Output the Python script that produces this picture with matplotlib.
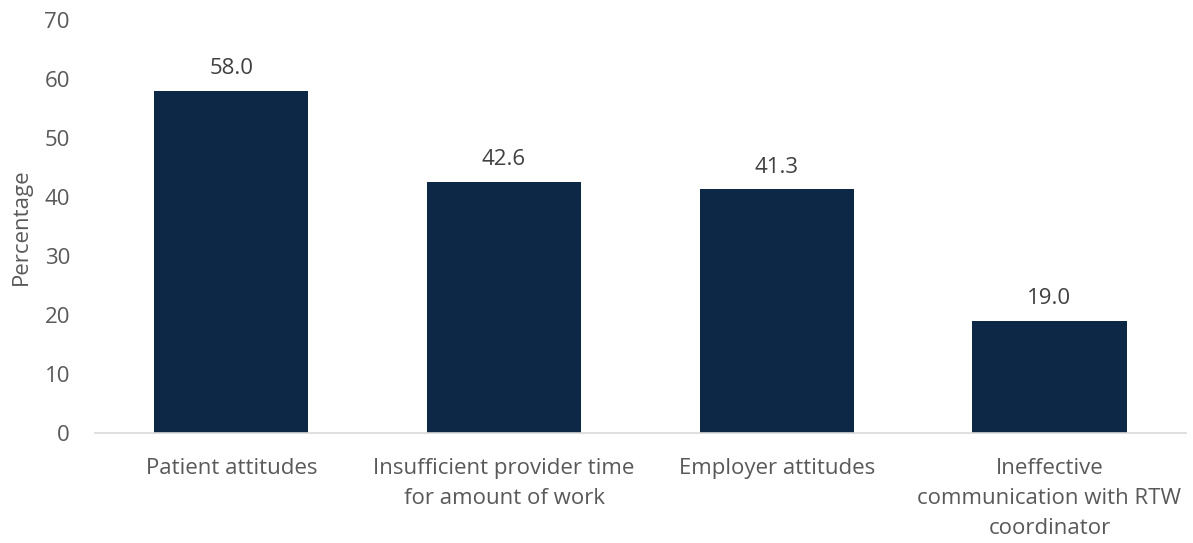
import matplotlib
matplotlib.use('Agg')
from matplotlib import pyplot as plt

categories = ['Patient attitudes',
              'Insufficient provider time\nfor amount of work',
              'Employer attitudes',
              'Ineffective\ncommunication with RTW\ncoordinator']
values = [58.0, 42.6, 41.3, 19.0]
yticks = [0, 10, 20, 30, 40, 50, 60, 70]

plt.rcParams['font.family'] = ['Open Sans', 'DejaVu Sans']
text_col = '#595959'

fig = plt.figure(figsize=(11.93, 5.43), dpi=100)
ax = fig.add_axes([0.0796, 0.2026, 0.9144, 0.7604])

x = range(len(categories))
bars = ax.bar(x, values, width=0.565, color='#0D2847')
for b, v in zip(bars, values):
    ax.text(b.get_x() + b.get_width() / 2, v + 2.0, '%.1f' % v,
            ha='center', va='bottom', fontsize=16, color='#404040')

ax.set_xlim(-0.5, 3.5)
ax.set_ylim(0, 70)
ax.set_yticks(yticks)
ax.set_xticks(list(x))
ax.set_xticklabels(categories, fontsize=16, color=text_col, linespacing=1.55, va='top')
ax.tick_params(axis='y', length=0, pad=18, labelsize=16, labelcolor=text_col)
ax.tick_params(axis='x', length=0, pad=18)
ax.set_ylabel('Percentage', fontsize=16, color=text_col, labelpad=9)

for s in ['top', 'right', 'left']:
    ax.spines[s].set_visible(False)
ax.spines['bottom'].set_color('#D9D9D9')
ax.spines['bottom'].set_linewidth(1.2)

plt.savefig('out.png', dpi=100)
